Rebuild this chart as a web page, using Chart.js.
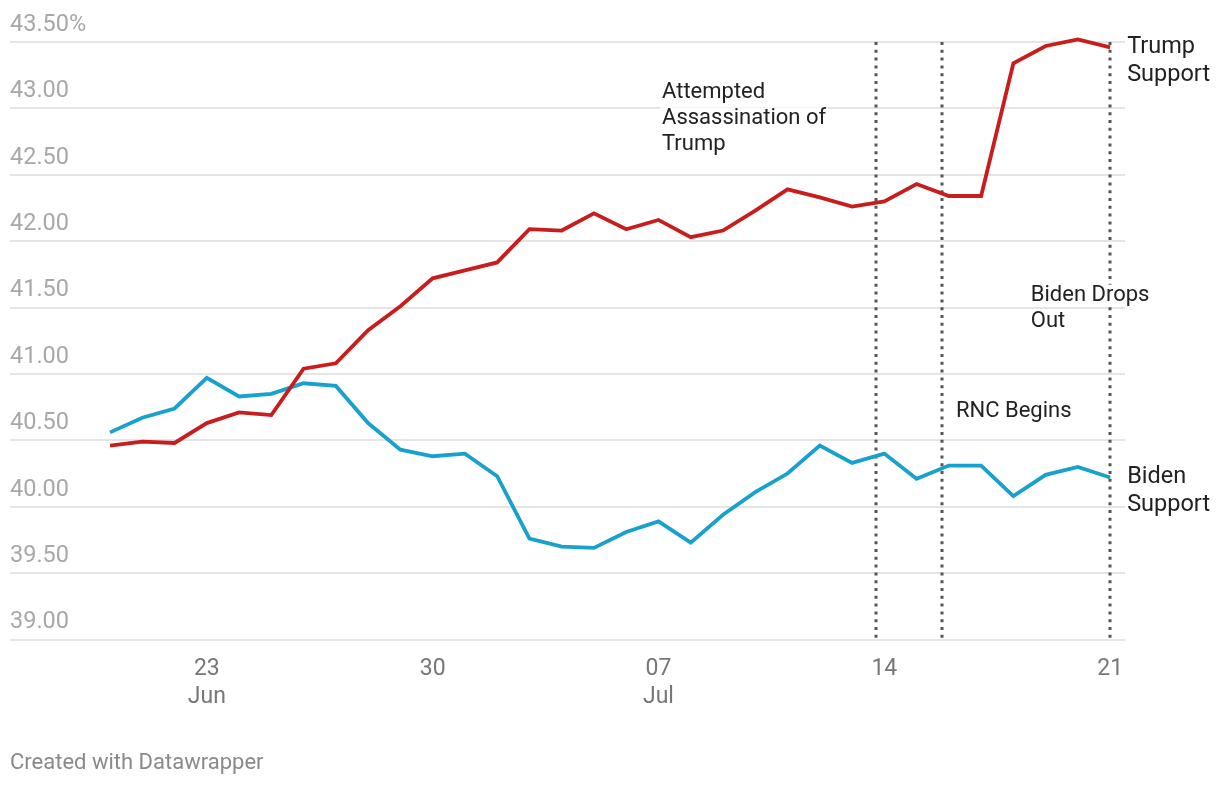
<!DOCTYPE html>
<html>
<head>
<meta charset="utf-8">
<script src="https://cdn.jsdelivr.net/npm/chart.js@4"></script>
<style>
  html, body { margin: 0; padding: 0; background: #fff; }
  #wrap { position: relative; width: 1220px; height: 786px; }
  #footer { position: absolute; left: 10px; top: 749px; font: 22px Roboto, sans-serif; color: #8a8a8a; }
</style>
</head>
<body>
<div id="wrap">
  <canvas id="c" width="1220" height="786"></canvas>
  <div id="footer">Created with Datawrapper</div>
</div>
<script>
const dates = ['2024-06-20','2024-06-21','2024-06-22','2024-06-23','2024-06-24','2024-06-25','2024-06-26','2024-06-27',
  '2024-06-28','2024-06-29','2024-06-30','2024-07-01','2024-07-02','2024-07-03','2024-07-04','2024-07-05',
  '2024-07-06','2024-07-07','2024-07-08','2024-07-09','2024-07-10','2024-07-11','2024-07-12','2024-07-13',
  '2024-07-14','2024-07-15','2024-07-16','2024-07-17','2024-07-18','2024-07-19','2024-07-20','2024-07-21'];

const trumpSupport = [40.46, 40.49, 40.48, 40.63, 40.71, 40.69, 41.04, 41.08,
  41.33, 41.51, 41.72, 41.78, 41.84, 42.09, 42.08, 42.21,
  42.09, 42.16, 42.03, 42.08, 42.23, 42.39, 42.33, 42.26,
  42.30, 42.43, 42.34, 42.34, 43.34, 43.47, 43.52, 43.46];

const bidenSupport = [40.56, 40.67, 40.74, 40.97, 40.83, 40.85, 40.93, 40.91,
  40.63, 40.43, 40.38, 40.40, 40.23, 39.76, 39.70, 39.69,
  39.81, 39.89, 39.73, 39.94, 40.11, 40.25, 40.46, 40.33,
  40.40, 40.21, 40.31, 40.31, 40.08, 40.24, 40.30, 40.22];

const tickDates = ['2024-06-23','2024-06-30','2024-07-07','2024-07-14','2024-07-21'];
const tickLabels = [['23','Jun'], '30', ['07','Jul'], '14', '21'];

const yTicks = [39.0, 39.5, 40.0, 40.5, 41.0, 41.5, 42.0, 42.5, 43.0, 43.5];

const seriesNames = [['Trump','Support'], ['Biden','Support']];

const eventTimes = ['2024-07-13T18:00Z', '2024-07-15T19:00Z', '2024-07-21T00:00Z'];
const eventTexts = [['Attempted','Assassination of','Trump'], ['RNC Begins'], ['Biden Drops','Out']];
const eventTextAnchors = [[17.11, 43.12], [26.22, 40.717], [28.54, 41.59]];

const RED = '#c71e1d';
const BLUE = '#18a1cd';

const dayMs = 86400000;
const t0 = Date.parse(dates[0] + 'T00:00Z');
const dayIndex = s => (Date.parse(s.length === 10 ? s + 'T00:00Z' : s) - t0) / dayMs;

const toPts = arr => arr.map((v, i) => ({ x: dayIndex(dates[i]), y: v }));

const annotPlugin = {
  id: 'annot',
  beforeDatasetsDraw(chart) {
    const { ctx, chartArea, scales: { x } } = chart;
    ctx.save();
    ctx.strokeStyle = '#555555';
    ctx.lineWidth = 3;
    ctx.setLineDash([3, 4.8]);
    eventTimes.forEach(t => {
      const px = Math.round(x.getPixelForValue(dayIndex(t)));
      ctx.beginPath();
      ctx.moveTo(px, chartArea.top);
      ctx.lineTo(px, chartArea.bottom);
      ctx.stroke();
    });
    ctx.restore();
  },
  afterDatasetsDraw(chart) {
    const { ctx, scales: { x, y } } = chart;
    ctx.save();
    ctx.font = '22px Roboto, sans-serif';
    ctx.textAlign = 'left';
    ctx.textBaseline = 'middle';
    eventTexts.forEach((lines, i) => {
      const px = x.getPixelForValue(eventTextAnchors[i][0]);
      const py = y.getPixelForValue(eventTextAnchors[i][1]);
      lines.forEach((ln, j) => {
        const w = ctx.measureText(ln).width;
        const ly = py + j * 26;
        ctx.fillStyle = '#ffffff';
        ctx.fillRect(px - 2, ly - 11, w + 4, 22);
        ctx.fillStyle = '#222222';
        ctx.fillText(ln, px, ly);
      });
    });
    ctx.font = '23.5px Roboto, sans-serif';
    chart.data.datasets.forEach((ds, i) => {
      const meta = chart.getDatasetMeta(i);
      const last = meta.data[meta.data.length - 1];
      seriesNames[i].forEach((ln, j) => {
        ctx.fillStyle = '#222222';
        ctx.fillText(ln, last.x + 17, last.y + j * 28);
      });
    });
    ctx.restore();
  }
};

new Chart(document.getElementById('c'), {
  type: 'line',
  data: {
    datasets: [
      { label: 'Trump Support', data: toPts(trumpSupport), borderColor: RED, borderWidth: 3.8, pointRadius: 0, tension: 0, clip: false },
      { label: 'Biden Support', data: toPts(bidenSupport), borderColor: BLUE, borderWidth: 3.8, pointRadius: 0, tension: 0, clip: false }
    ]
  },
  options: {
    responsive: false,
    devicePixelRatio: 1,
    animation: false,
    events: [],
    layout: { padding: { top: 42, left: 10, right: 95, bottom: 59 } },
    plugins: { legend: { display: false }, tooltip: { enabled: false } },
    scales: {
      x: {
        type: 'linear',
        min: -3.1,
        max: 31.46,
        grid: { display: false, drawTicks: false },
        border: { display: false },
        afterBuildTicks: s => { s.ticks = tickDates.map(d => ({ value: dayIndex(d) })); },
        ticks: {
          autoSkip: false,
          maxRotation: 0,
          padding: 15,
          color: '#777777',
          font: { family: 'Roboto', size: 23, lineHeight: 1.25 },
          callback: (v, i) => tickLabels[i]
        }
      },
      y: {
        min: 39,
        max: 43.5,
        grid: { color: '#e5e5e5', lineWidth: 2, drawTicks: false },
        border: { display: false },
        afterBuildTicks: s => { s.ticks = yTicks.map(v => ({ value: v })); },
        ticks: {
          mirror: true,
          padding: 0,
          labelOffset: -17,
          color: '#a8a8a8',
          font: { family: 'Roboto', size: 23.5 },
          callback: v => v === 43.5 ? '43.50%' : v.toFixed(2)
        }
      }
    }
  },
  plugins: [annotPlugin]
});
</script>
</body>
</html>
